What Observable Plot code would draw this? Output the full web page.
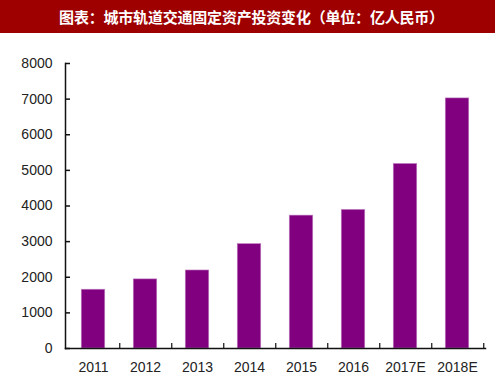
<!DOCTYPE html>
<html>
<head>
<meta charset="utf-8">
<script src="https://cdn.jsdelivr.net/npm/d3@7"></script>
<script src="https://cdn.jsdelivr.net/npm/@observablehq/plot@0.6"></script>
<style>
  html, body { margin: 0; padding: 0; background: #fff; }
  #title {
    width: 495px; height: 33px; background: #9e0000; color: #fff;
    font-family: "Noto Sans CJK SC", sans-serif; font-weight: bold; font-size: 15px;
    line-height: 33px; text-align: center; text-indent: 8px; letter-spacing: -0.2px;
  }
  #chart svg { display: block; }
</style>
</head>
<body>
<div id="title"></div>
<div id="chart"></div>
<script>
const titleText = "图表：城市轨道交通固定资产投资变化（单位：亿人民币）";
const years = ["2011", "2012", "2013", "2014", "2015", "2016", "2017E", "2018E"];
const investment = [1650, 1940, 2190, 2930, 3730, 3890, 5180, 7020];
const yTicks = [0, 1000, 2000, 3000, 4000, 5000, 6000, 7000, 8000];

document.getElementById("title").textContent = titleText;
const data = years.map((year, i) => ({year, value: investment[i]}));

const width = 495, height = 351;
const marginLeft = 65, marginRight = 10, marginTop = 30, marginBottom = 36;
const plotW = width - marginLeft - marginRight;
const plotH = height - marginTop - marginBottom;
const bw = plotW / years.length;
const font = "'Liberation Sans', Arial, sans-serif";

const chart = Plot.plot({
  width, height,
  marginTop, marginBottom, marginLeft, marginRight,
  style: {fontFamily: font, fontSize: "14px", color: "#222", background: "#fff"},
  x: {domain: years, padding: 0, label: null, tickSize: 0, tickPadding: 14},
  y: {domain: [0, 8000], label: null, ticks: yTicks, tickSize: 0, tickPadding: 13, tickFormat: d => String(d)},
  marks: [
    Plot.barY(data, {x: "year", y: "value", fill: "#800080", stroke: "#c080c0", strokeWidth: 0.6, insetLeft: (bw - 24) / 2, insetRight: (bw - 24) / 2}),
    Plot.tickY(yTicks, {y: d => d, insetRight: plotW - 5, stroke: "#111", strokeWidth: 1.5}),
    Plot.tickX(years, {x: d => d, dx: bw / 2, insetTop: plotH - 5, stroke: "#111", strokeWidth: 1.2}),
    Plot.frame({anchor: "left", stroke: "#111", strokeWidth: 1.5}),
    Plot.frame({anchor: "bottom", stroke: "#111", strokeWidth: 1.5})
  ]
});
document.getElementById("chart").appendChild(chart);
</script>
</body>
</html>
